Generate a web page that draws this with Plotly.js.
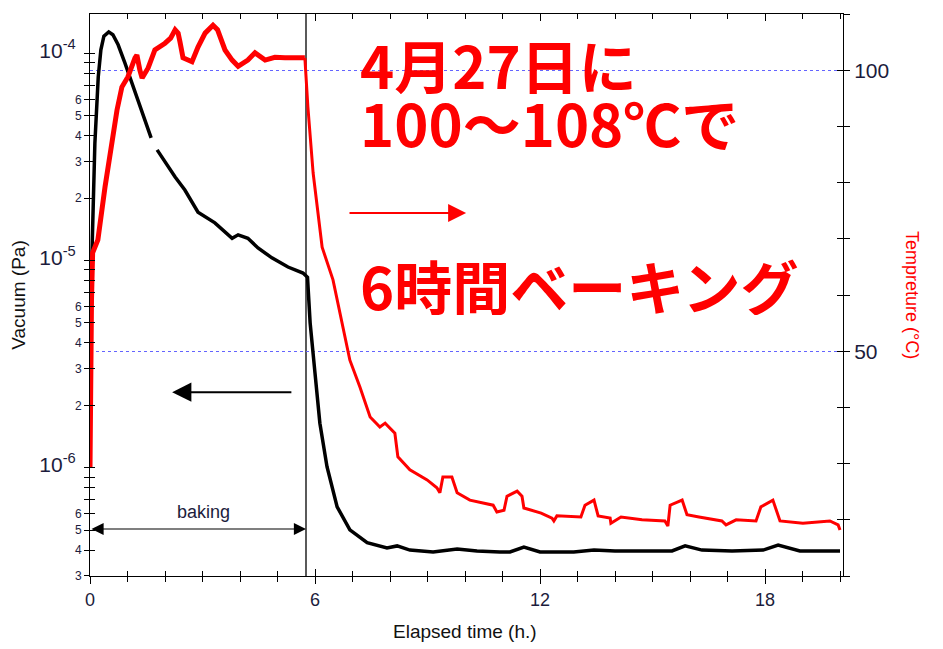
<!DOCTYPE html>
<html><head><meta charset="utf-8">
<script src="https://cdn.plot.ly/plotly-3.0.1.min.js"></script>
<style>body{margin:0;background:#fff}#chart{width:943px;height:649px}</style>
</head><body><div id="chart"></div>
<script>
// ---- data ----
const vacTime = [0, 0.01, 0.03, 0.06, 0.13, 0.22, 0.29, 0.37, 0.5, 0.61, 0.75, 0.93, 1.07, 1.33, 1.63, 1.71, 1.79, 2.27, 2.53, 2.88, 3.33, 3.79, 3.95, 4.21, 4.48, 4.85, 5.28, 5.68, 5.8, 5.87, 6.0, 6.13, 6.32, 6.59, 6.93, 7.39, 7.92, 8.19, 8.53, 9.15, 9.79, 10.32, 10.93, 11.2, 11.57, 12.0, 12.9, 13.44, 14.0, 15.52, 15.87, 16.32, 17.12, 17.95, 18.35, 18.93, 20.0];
const vacPa = [2.2e-6, 4.6e-6, 7.0e-6, 1.22e-5, 3.69e-5, 7.7e-5, 1.04e-4, 1.21e-4, 1.27e-4, 1.23e-4, 1.10e-4, 9.0e-5, 7.6e-5, 5.63e-5, 3.91e-5, null, 3.42e-5, 2.53e-5, 2.19e-5, 1.71e-5, 1.52e-5, 1.28e-5, 1.33e-5, 1.28e-5, 1.15e-5, 1.03e-5, 9.3e-6, 8.7e-6, 8.3e-6, 5.0e-6, 2.86e-6, 1.64e-6, 1.01e-6, 6.47e-7, 5.01e-7, 4.34e-7, 4.1e-7, 4.19e-7, 4.0e-7, 3.92e-7, 4.05e-7, 3.96e-7, 3.92e-7, 3.92e-7, 4.14e-7, 3.92e-7, 3.92e-7, 4.0e-7, 3.96e-7, 3.96e-7, 4.19e-7, 4.0e-7, 3.96e-7, 4.0e-7, 4.23e-7, 3.96e-7, 3.96e-7];

const tempBakeTime = [0, 0.01, 0.04, 0.07, 0.21, 0.4, 0.53, 0.72, 0.85, 1.01, 1.2, 1.25, 1.33, 1.39, 1.55, 1.73, 2.0, 2.15, 2.27, 2.35, 2.4, 2.48, 2.72, 2.88, 3.07, 3.28, 3.4, 3.47, 3.6, 3.79, 3.95, 4.21, 4.4, 4.67, 4.93, 5.2, 5.47, 5.73];
const tempBakeC = [29.2, 41.3, 59.1, 67.5, 69.8, 79.2, 85.3, 92.9, 97.0, 98.8, 102.2, 102.7, 100.0, 98.6, 100.4, 103.6, 104.8, 105.7, 107.2, 106.6, 105.0, 102.2, 101.5, 104.1, 106.6, 108.0, 107.2, 106.1, 103.6, 101.8, 100.7, 101.8, 103.1, 101.8, 102.3, 102.2, 102.3, 102.2];

const tempCoolTime = [5.73, 5.81, 5.95, 6.19, 6.48, 6.75, 6.93, 7.2, 7.47, 7.73, 7.87, 8.13, 8.21, 8.53, 8.99, 9.25, 9.33, 9.41, 9.65, 9.79, 10.13, 10.75, 10.85, 11.04, 11.12, 11.39, 11.52, 11.57, 12.03, 12.32, 12.37, 12.45, 13.09, 13.2, 13.44, 13.55, 13.87, 13.89, 14.16, 14.72, 15.33, 15.41, 15.47, 15.79, 15.92, 16.24, 16.85, 16.96, 17.23, 17.76, 17.89, 18.21, 18.4, 19.01, 19.73, 19.95, 20.0];
const tempCoolC = [102.2, 93.5, 81.7, 68.5, 62.7, 54.3, 48.4, 43.6, 38.3, 36.5, 37.2, 35.4, 31.2, 28.9, 27.1, 25.7, 24.8, 27.6, 27.6, 24.8, 23.5, 22.6, 21.4, 21.7, 24.2, 25.1, 24.2, 22.1, 21.2, 20.3, 19.8, 20.7, 20.5, 22.6, 23.5, 20.7, 20.3, 19.4, 20.5, 20.0, 19.8, 18.9, 22.6, 23.5, 20.9, 20.5, 19.8, 19.1, 20.0, 19.8, 22.3, 23.5, 19.8, 19.4, 19.8, 19.1, 18.2];

const bakingEnd = 5.76;               // hours, end of baking (vertical line)
const xMajorTicks = [0, 6, 12, 18];
const vacDecades = [-7, -6, -5, -4];
const vacMantissas = [1, 2, 3, 4, 5, 6, 7, 8, 9];
const vacMantissaLabels = ['P', '2', '3', '4', '5', '6', '', '', ''];
const tempTicks = [10, 20, 30, 40, 50, 60, 70, 80, 90, 100, 110];
const tempTickLabels = ['', '', '', '', '50', '', '', '', '', '100', ''];
const tempGrid = [50, 100];

const annoLine1 = '4月27日に';
const annoLine2 = '100～108℃で';
const annoLine3 = '6時間ベーキング';

// ---- axes helpers ----
const vacRangeLog = [-6.523, -3.81];
const tempRange = [10, 110];
const xRange = [0, 20.08];

const vacTickVals = [], vacTickText = [];
vacDecades.forEach(e => vacMantissas.forEach((m, i) => {
  const v = m * Math.pow(10, e);
  const lv = Math.log10(v);
  if (lv >= vacRangeLog[0] - 1e-6 && lv <= vacRangeLog[1]) {
    vacTickVals.push(v);
    const lab = vacMantissaLabels[i];
    vacTickText.push(lab === 'P' ? '<span style="font-size:21px">10<sup>' + e + '</sup>\u00a0</span>' : lab);
  }
}));

const TICKFONT = {family: 'Liberation Sans, Arial, sans-serif', size: 12, color: '#1c1c3c'};
const FONT = 'Liberation Sans, Arial, sans-serif';
const JP = 'Noto Sans CJK JP, sans-serif';

const traces = [
  {x: tempBakeTime, y: tempBakeC, yaxis: 'y2', type: 'scatter', mode: 'lines',
   line: {color: '#ff0000', width: 5}, hoverinfo: 'skip', showlegend: false},
  {x: tempCoolTime, y: tempCoolC, yaxis: 'y2', type: 'scatter', mode: 'lines',
   line: {color: '#ff0000', width: 3}, hoverinfo: 'skip', showlegend: false},
  {x: vacTime, y: vacPa, type: 'scatter', mode: 'lines', connectgaps: false,
   line: {color: '#000000', width: 3.5}, hoverinfo: 'skip', showlegend: false},
  {x: [], y: [], xaxis: 'x2', yaxis: 'y3', showlegend: false},
  {x: [], y: [], yaxis: 'y4', showlegend: false},
  {x: [], y: [], yaxis: 'y5', showlegend: false}
];

const axBase = {showgrid: false, zeroline: false, linecolor: '#000', tickcolor: '#000', tickwidth: 1};

const layout = {
  width: 943, height: 649,
  margin: {l: 90, r: 100, t: 14, b: 73},
  paper_bgcolor: '#fff', plot_bgcolor: '#fff',
  showlegend: false,
  xaxis: Object.assign({}, axBase, {
    range: xRange, showline: true, mirror: true, linewidth: 1,
    tickvals: xMajorTicks, ticks: 'outside', ticklen: 7,
    minor: {dtick: 1, tick0: 0, ticks: 'outside', ticklen: 5, tickcolor: '#000'},
    tickfont: {family: FONT, size: 18, color: '#1c1c3c'}
  }),
  xaxis2: Object.assign({}, axBase, {
    overlaying: 'x', anchor: 'y', range: xRange, showline: false, mirror: 'ticks',
    tickvals: xMajorTicks, ticks: 'inside', ticklen: 7, showticklabels: false,
    minor: {dtick: 1, tick0: 0, ticks: 'inside', ticklen: 5, tickcolor: '#000'}
  }),
  yaxis: Object.assign({}, axBase, {
    type: 'log', range: vacRangeLog, showline: true, mirror: true, linewidth: 1,
    tickvals: vacTickVals, ticktext: vacTickText, ticks: 'outside', ticklen: 5,
    tickfont: TICKFONT
  }),
  yaxis3: Object.assign({}, axBase, {
    type: 'log', range: vacRangeLog, overlaying: 'y', anchor: 'x', side: 'left',
    showline: false, tickvals: vacTickVals, ticks: 'inside', ticklen: 5, showticklabels: false
  }),
  yaxis2: Object.assign({}, axBase, {
    range: tempRange, overlaying: 'y', anchor: 'x', side: 'right', showline: true, linewidth: 1,
    tickvals: tempTicks, ticktext: tempTickLabels, ticks: 'outside', ticklen: 6,
    tickfont: {family: FONT, size: 21, color: '#1c1c3c'}
  }),
  yaxis4: Object.assign({}, axBase, {
    range: tempRange, overlaying: 'y', anchor: 'x', side: 'right', showline: false,
    tickvals: tempTicks, ticks: 'inside', ticklen: 6, showticklabels: false
  }),
  yaxis5: {
    range: tempRange, overlaying: 'y', anchor: 'x', side: 'right', showline: false, zeroline: false,
    tickvals: tempGrid, ticks: '', showticklabels: false,
    showgrid: true, gridcolor: '#6464ff', gridwidth: 1, griddash: 'dot'
  },
  shapes: [
    {type: 'line', xref: 'x', yref: 'paper', x0: bakingEnd, x1: bakingEnd, y0: 0, y1: 1,
     line: {color: '#000', width: 1.3}, layer: 'below'}
  ],
  annotations: [
    {xref: 'paper', yref: 'paper', x: -0.096, y: 0.5, xanchor: 'center', yanchor: 'middle',
     text: 'Vacuum (Pa)', showarrow: false, textangle: -90, font: {family: FONT, size: 19, color: '#111'}},
    {xref: 'paper', yref: 'paper', x: 1.0916, y: 0.5, xanchor: 'center', yanchor: 'middle',
     text: 'Tempreture (°C)', showarrow: false, textangle: 90, font: {family: FONT, size: 18, color: '#ff0000'}},
    {xref: 'paper', yref: 'paper', x: 0.498, y: -0.0996, xanchor: 'center', yanchor: 'middle',
     text: 'Elapsed time (h.)', showarrow: false, font: {family: FONT, size: 19, color: '#111'}},
    {xref: 'x', yref: 'paper', x: 3.03, y: 0.0925, text: 'baking', showarrow: false,
     font: {family: FONT, size: 18, color: '#1c1c3c'}},
    // baking double arrow
    {xref: 'x', yref: 'paper', x: bakingEnd, y: 0.0836, axref: 'x', ax: 0, ayref: 'pixel', ay: 0,
     text: '', showarrow: true, arrowside: 'end+start', arrowhead: 2, arrowsize: 2.2, arrowwidth: 1.1,
     arrowcolor: '#000', standoff: 0, startstandoff: 0},
    // black arrow pointing left
    {xref: 'x', yref: 'paper', x: 2.19, y: 0.327, axref: 'x', ax: 5.41, ayref: 'pixel', ay: 0,
     text: '', showarrow: true, arrowhead: 2, arrowsize: 1.75, arrowwidth: 2.2, arrowcolor: '#000', standoff: 0},
    // red arrow pointing right
    {xref: 'x', yref: 'paper', x: 10.03, y: 0.646, axref: 'x', ax: 6.88, ayref: 'pixel', ay: 0,
     text: '', showarrow: true, arrowhead: 2, arrowsize: 1.8, arrowwidth: 2, arrowcolor: '#ff0000', standoff: 0},
    // Japanese text
    {xref: 'paper', yref: 'paper', x: 0.356, y: 0.911, xanchor: 'left', yanchor: 'middle', height: 60,
     text: '<b>' + annoLine1 + '</b>', showarrow: false, font: {family: JP, size: 58, color: '#ff0000'}},
    {xref: 'paper', yref: 'paper', x: 0.356, y: 0.808, xanchor: 'left', yanchor: 'middle', height: 60,
     text: '<b>' + annoLine2 + '</b>', showarrow: false, font: {family: JP, size: 58, color: '#ff0000'}},
    {xref: 'paper', yref: 'paper', x: 0.356, y: 0.517, xanchor: 'left', yanchor: 'middle', height: 60,
     text: '<b>' + annoLine3 + '</b>', showarrow: false, font: {family: JP, size: 58, color: '#ff0000'}}
  ]
};

Plotly.newPlot('chart', traces, layout, {staticPlot: true, displayModeBar: false});
</script>
</body></html>
